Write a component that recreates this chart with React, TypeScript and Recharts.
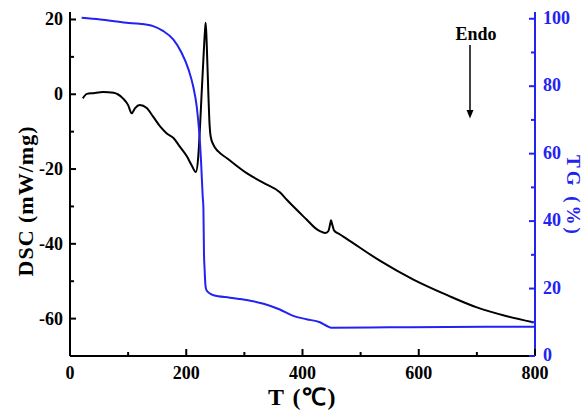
import { Line, LineChart, XAxis, YAxis } from "recharts";

const tempTicks = [0, 100, 200, 300, 400, 500, 600, 700, 800];
const dscTicks = [-60, -50, -40, -30, -20, -10, 0, 10, 20];
const tgTicks = [0, 10, 20, 30, 40, 50, 60, 70, 80, 90, 100];

// DSC curve (mW/mg) vs temperature
const dscT = [
  22, 29, 40, 57, 75, 91, 100, 106, 112, 120, 132, 143, 155, 166, 178, 189,
  201, 209, 216.5, 220.7, 223.7, 226.5, 229.4, 232.3, 233.5, 235.2, 238,
  239.7, 242, 246.6, 255, 270, 304, 333, 361, 373, 390, 407, 422, 430, 438.7,
  444.5, 447.3, 449, 451.3, 454.2, 464.5, 475.5, 533, 590, 650, 700, 750, 797,
];
const dscV = [
  -1.1, 0.1, 0.3, 0.6, 0.4, -1.1, -2.9, -5.1, -3.7, -2.9, -3.7, -6, -8.6,
  -10.4, -11.7, -14, -16.6, -18.9, -20.8, -16.6, -8.6, 0.3, 9.1, 17.1,
  19.1, 13.6, 0.3, -6.9, -11.3, -13.5, -15.3, -17.1, -21.1, -23.7, -26.2,
  -28.2, -30.9, -33.5, -35.8, -36.6, -37.1, -36.6, -34.9, -33.7, -34.9, -36.4,
  -37.5, -38.6, -44.5, -49.5, -53.8, -57, -59.3, -61,
];

// TG curve (%) vs temperature
const tgT = [
  20, 52, 97, 120, 143, 160, 178, 192, 204, 212, 218, 222.5, 225.4, 228.3,
  229.5, 230.5, 231.5, 233, 234.5, 240, 247, 275, 304, 333, 361, 384, 407,
  430, 442, 450, 550, 650, 800,
];
const tgV = [
  100.3, 99.8, 98.8, 98.5, 97.8, 96.4, 93.8, 89.9, 84.9, 79.9, 74, 66, 58,
  47.3, 44, 30.4, 26, 21, 19.6, 18.6, 18, 17.3, 16.6, 15.5, 13.8, 11.9, 10.9,
  10, 8.9, 8.4, 8.5, 8.6, 8.7,
];

const dscData = dscT.map((t, i) => ({ t, dsc: dscV[i] }));
const tgData = tgT.map((t, i) => ({ t, tg: tgV[i] }));

const BLUE = "#2222f2";
const FONT = "'Times New Roman', 'Liberation Serif', serif";

function BottomTick(props: any) {
  const { x, y, payload } = props;
  const major = payload.value % 200 === 0;
  return (
    <g>
      <line x1={x} x2={x} y1={y} y2={y - (major ? 7 : 4)} stroke="#000" strokeWidth={2} />
      {major && (
        <text x={x} y={y + 23} textAnchor="middle" fontSize={18} fontWeight="bold" fontFamily={FONT} fill="#000">
          {payload.value}
        </text>
      )}
    </g>
  );
}

function LeftTick(props: any) {
  const { x, y, payload } = props;
  const major = payload.value % 20 === 0;
  return (
    <g>
      <line x1={x} x2={x + (major ? 6 : 4)} y1={y} y2={y} stroke="#000" strokeWidth={2} />
      {major && (
        <text x={x - 7} y={y + 6} textAnchor="end" fontSize={18} fontWeight="bold" fontFamily={FONT} fill="#000">
          {payload.value}
        </text>
      )}
    </g>
  );
}

function RightTick(props: any) {
  const { x, y, payload } = props;
  const major = payload.value % 20 === 0;
  return (
    <g>
      <line x1={x} x2={x - (major ? 6 : 4)} y1={y} y2={y} stroke={BLUE} strokeWidth={2} />
      {major && (
        <text x={x + 8} y={y + 5} textAnchor="start" fontSize={18} fontWeight="bold" fontFamily={FONT} fill={BLUE}>
          {payload.value}
        </text>
      )}
    </g>
  );
}

export default function App() {
  return (
    <div style={{ position: "absolute", left: 0, top: 0, width: 584, height: 410, background: "#fff" }}>
      <LineChart width={584} height={410} data={dscData} margin={{ top: 12, right: 0, bottom: 0, left: 0 }}>
        <XAxis
          xAxisId="b"
          dataKey="t"
          type="number"
          domain={[0, 800]}
          ticks={tempTicks}
          interval={0}
          height={54}
          tickSize={0}
          tickMargin={0}
          tickLine={false}
          tick={<BottomTick />}
          axisLine={{ stroke: "#000", strokeWidth: 2 }}
          label={{
            content: (p: any) => (
              <text
                x={p.viewBox.x + p.viewBox.width / 2}
                y={p.viewBox.y + 49}
                textAnchor="middle"
                fontSize={24}
                fontWeight="bold"
                fontFamily={FONT}
                letterSpacing={1.5}
              >
                T (℃)
              </text>
            ),
          }}
        />
        <XAxis
          xAxisId="top"
          orientation="top"
          dataKey="t"
          type="number"
          domain={[0, 800]}
          height={0}
          tick={false}
          tickLine={false}
          axisLine={{ stroke: "#222", strokeWidth: 2 }}
        />
        <YAxis
          yAxisId="dsc"
          type="number"
          domain={[-70, 22]}
          allowDataOverflow
          ticks={dscTicks}
          interval={0}
          width={70}
          tickSize={0}
          tickMargin={0}
          tickLine={false}
          tick={<LeftTick />}
          axisLine={{ stroke: "#000", strokeWidth: 2 }}
          label={{
            content: (p: any) => {
              const cx = 33;
              const cy = p.viewBox.y + p.viewBox.height / 2 + 17;
              return (
                <text
                  transform={`translate(${cx},${cy}) rotate(-90)`}
                  textAnchor="middle"
                  fontSize={22}
                  fontWeight="bold"
                  fontFamily={FONT}
                  letterSpacing={1}
                >
                  DSC (mW/mg)
                </text>
              );
            },
          }}
        />
        <YAxis
          yAxisId="tg"
          orientation="right"
          type="number"
          domain={[0, 102]}
          allowDataOverflow
          ticks={tgTicks}
          interval={0}
          width={49}
          tickSize={0}
          tickMargin={0}
          tickLine={false}
          tick={<RightTick />}
          axisLine={{ stroke: BLUE, strokeWidth: 2 }}
          label={{
            content: (p: any) => {
              const cx = 567;
              const cy = p.viewBox.y + p.viewBox.height / 2 + 12;
              return (
                <text
                  transform={`translate(${cx},${cy}) rotate(90)`}
                  textAnchor="middle"
                  fontSize={19}
                  fontWeight="bold"
                  fontFamily={FONT}
                  fill={BLUE}
                  letterSpacing={3}
                >
                  TG (%)
                </text>
              );
            },
          }}
        />
        <Line
          xAxisId="b"
          yAxisId="dsc"
          data={dscData}
          dataKey="dsc"
          type="monotone"
          stroke="#000"
          strokeWidth={2}
          dot={false}
          isAnimationActive={false}
        />
        <Line
          xAxisId="b"
          yAxisId="tg"
          data={tgData}
          dataKey="tg"
          type="monotone"
          stroke={BLUE}
          strokeWidth={2}
          dot={false}
          isAnimationActive={false}
        />
      </LineChart>
      <svg width={584} height={410} style={{ position: "absolute", left: 0, top: 0, pointerEvents: "none" }}>
        <text x={476} y={40} textAnchor="middle" fontSize={18} fontWeight="bold" fontFamily={FONT}>
          Endo
        </text>
        <line x1={470} x2={470} y1={45} y2={112} stroke="#000" strokeWidth={1.5} />
        <polygon points="466.5,110 473.5,110 470,118.5" fill="#000" />
      </svg>
    </div>
  );
}
